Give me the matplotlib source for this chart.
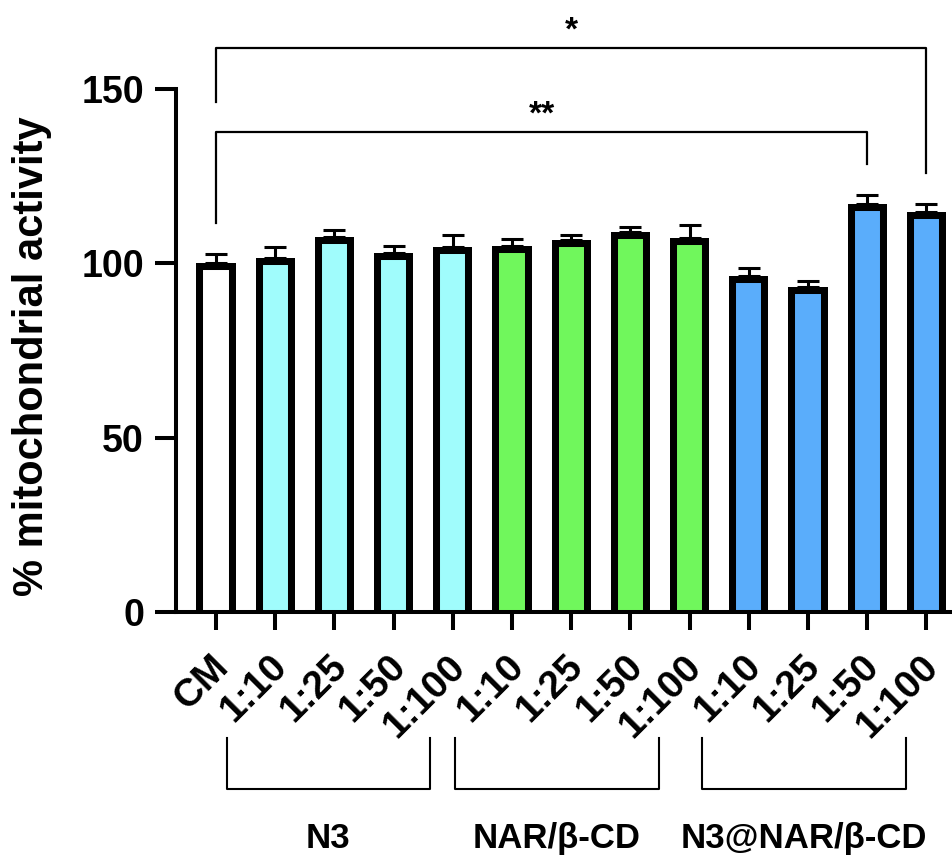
import matplotlib
matplotlib.use("Agg")
import matplotlib.pyplot as plt
import matplotlib.transforms as mtransforms
from matplotlib.patches import Rectangle
from matplotlib.transforms import ScaledTranslation

plt.rcParams['font.family'] = ['Liberation Sans', 'DejaVu Sans']
plt.rcParams['font.weight'] = 'bold'

# data
labels = ['CM', '1:10', '1:25', '1:50', '1:100', '1:10', '1:25', '1:50', '1:100',
          '1:10', '1:25', '1:50', '1:100']
activity = [100.0, 101.4, 107.6, 103.0, 104.8, 105.0, 106.7, 109.1, 107.2,
            96.4, 93.1, 117.0, 114.6]
sem = [2.6, 3.3, 1.9, 2.0, 3.4, 2.0, 1.3, 1.4, 3.9, 2.3, 1.9, 2.6, 2.5]
colors = ['#ffffff'] + ['#a0fcfc'] * 4 + ['#70f75c'] * 4 + ['#5aadfb'] * 4

groups = ['N3', 'NAR/\u03b2-CD', 'N3@NAR/\u03b2-CD']
group_spans = [(0.18, 3.61), (4.04, 7.48), (8.21, 11.66)]

# significance: (left bar, right bar, bracket height, left leg end, right leg end, text)
sig = [(0, 12, 161.7, 146.3, 125.8, '*'),
       (0, 11, 137.5, 111.5, 128.4, '**')]

fig = plt.figure(figsize=(9.53, 8.61), dpi=100)
ax = fig.add_axes([176 / 953, 248.7 / 861, 777 / 953, 610.75 / 861])

x = list(range(len(labels)))
w = 0.66
drop = 4  # bars start below zero so the bottom border is clipped away
bars = ax.bar(x, [v + drop for v in activity], bottom=-drop, width=w, color=colors,
              edgecolor='black', linewidth=10.1, zorder=2)
for xi, v, b in zip(x, activity, bars):
    b.set_clip_path(Rectangle((xi - w / 2, 0), w, v, transform=ax.transData))

ax.errorbar(x, activity, yerr=[[0] * len(sem), sem], fmt='none', ecolor='black',
            elinewidth=2.2, capsize=7.6, capthick=2.2, zorder=1)

ax.set_xlim(-0.676, 12.45)
ax.set_ylim(0, 175)
ax.set_yticks([0, 50, 100, 150])
ax.set_xticks(x)
ax.set_xticklabels(labels, rotation=45, ha='right', va='top', rotation_mode='anchor')

for s in ['top', 'right']:
    ax.spines[s].set_visible(False)
ax.spines['left'].set_bounds(0, 150)
ax.spines['left'].set_linewidth(2.9)
ax.spines['bottom'].set_linewidth(2.9)
ax.spines['bottom'].set_zorder(5)
ax.tick_params(axis='y', length=15, width=2.9, pad=8, labelsize=27)
ax.tick_params(axis='x', length=13, width=2.9, pad=13, labelsize=28)
for lbl in ax.get_xticklabels():
    lbl.set_fontweight('bold')
    lbl.set_transform(lbl.get_transform() + ScaledTranslation(-0.06, 0, fig.dpi_scale_trans))
for lbl in ax.get_yticklabels():
    lbl.set_fontweight('bold')

fig.text(32 / 953, 1 - 356 / 861, '% mitochondrial activity', rotation=90,
         ha='center', va='center', fontsize=30, fontweight='bold')

# significance brackets
for i0, i1, h, l0, l1, txt in sig:
    ax.plot([i0, i0, i1, i1], [l0, h, h, l1], color='black', lw=1.6, clip_on=False)
    ax.text((i0 + i1) / 2, h + 2.4, txt, ha='center', va='baseline', fontsize=24,
            fontweight='bold', clip_on=False)

# group brackets under the tick labels
trans = mtransforms.blended_transform_factory(ax.transData, ax.transAxes)
for name, (a, b) in zip(groups, group_spans):
    ax.plot([a, a, b, b], [-0.2058, -0.2893, -0.2893, -0.2058], color='black', lw=1.5,
            transform=trans, clip_on=False)
    ax.text((a + b) / 2, -0.37, name, transform=trans, ha='center', va='center',
            fontsize=25, fontweight='bold')

fig.savefig('out.png', dpi=100)
